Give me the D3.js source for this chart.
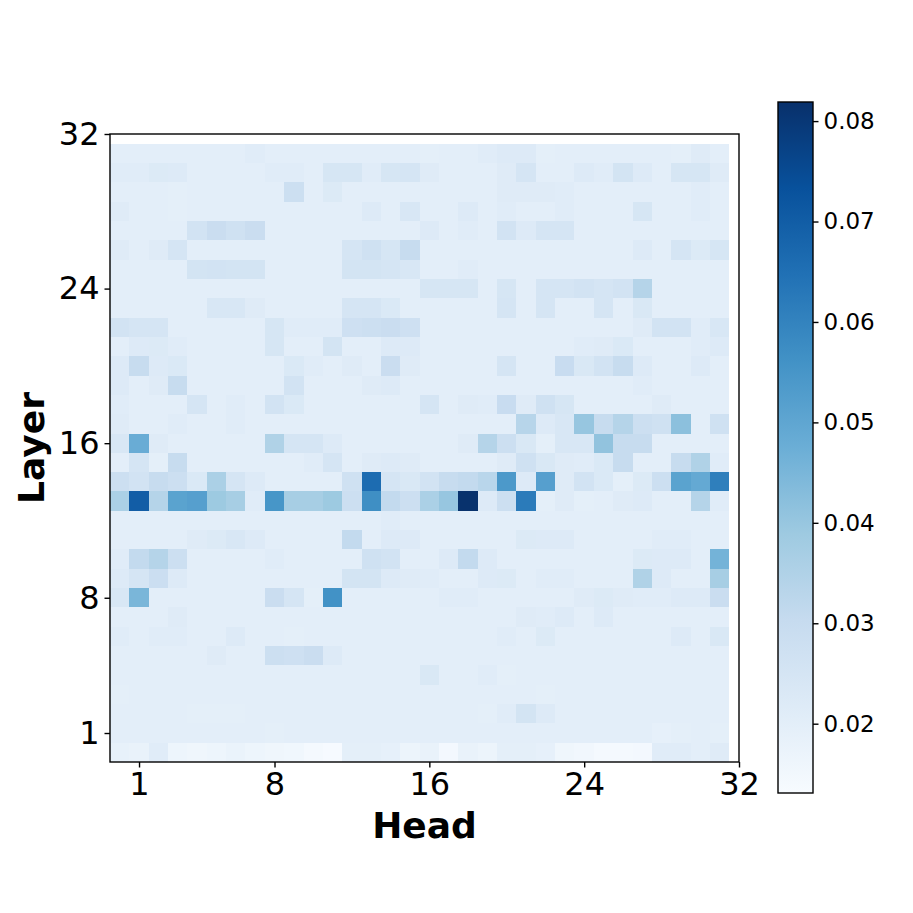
<!DOCTYPE html>
<html>
<head>
<meta charset="utf-8">
<style>
  html, body { margin: 0; padding: 0; background: #fff; }
  text { font-family: "DejaVu Sans", sans-serif; fill: #000; }
</style>
<script src="https://cdn.jsdelivr.net/npm/d3@7"></script>
</head>
<body>
<div id="chart"></div>
<script>
// tick labels
const headTicks = [1, 8, 16, 24, 32]
const layerTicks = [1, 8, 16, 24, 32]
const colorTicks = [0.02, 0.03, 0.04, 0.05, 0.06, 0.07, 0.08]
const colorDomain = [0.0131, 0.0819]

// matplotlib Blues
const blues = ['#f7fbff', '#deebf7', '#c6dbef', '#9ecae1', '#6baed6', '#4292c6', '#2171b5', '#08519c', '#08306b']

// cell values x 1000. First row is layer 31, last is layer 0
const cellValues = [
  [20,20,20,20,20,20,20,21,20,20,20,20,20,20,20,20,19.5,20,20,21,22,22,19.5,20,20,20,20,20,20,19.5,21.5,20],
  [21,21,22.5,22,20,20,20,20,21,21,20,24.5,24.5,21,24.5,25,21.5,20,20,20,21.5,25,20,20,22,21,25.5,22,20,24.5,24.5,21.5],
  [20,20,20,19.5,20,20,20,20,20,28,20,22.5,20,20,20,20,20,20,20,20,21.5,21.5,21.5,21,20,20,20,20,20,20,21,20],
  [21.5,20,20,19.5,20,20,20,20,20,20,20,20,20,22,20,24,20,20,22,20,21,20,20,21,20,20,20,24.5,20,20,21,20],
  [20,20,20,20,26,29,27,29,20,20,20,20,20,20,20,20,22,20,21,20,26,22,25,25,20,20,20,20,20,20,20,20],
  [21.5,20,21.5,25,20,20,20,20,20,20,20,20,25,27,24.5,30,20,20,20,20,20,20,20,20,20,20,20,22,20,25,22.5,24.5],
  [20,20,20,20,25.5,26,25.5,25.5,20,20,20,20,25.5,25.5,25,24,20,20,21,20,20,20,20,20,20,20,20,20,20,20,20,20],
  [20,20,20,20,20,20,20,20,20,20,20,20,20,20,20,20,24.5,24.5,24.5,20,24.5,20,25,25,26,25,26,34,20,20,20,20],
  [20,20,20,20,20,24,24,21.5,20,20,20,20,25,25,23,20,20,20,20,20,25,20,25,20,20,25,20,23.5,20,20,20,20],
  [26,25,25,20,20,20,20,20,24.5,21,21,21,27.5,28,29,27.5,20,20,20,20,20,20,20,20,20,20,20,21.5,26,26,21,24],
  [20,22,22.5,21,20,20,20,20,24.5,20,20,25.5,20,20,22,22,20,20,20,20,20,20,20,20,21,21.5,23,20,20,20,21,22],
  [22,30,22,23,20,20,20,20,20,23,21,20,21.5,20,29,21.5,20,20,20,20,25,20,20,29.5,23.5,26,30,22,20,20,22,20],
  [22,20,21.5,30,20,20,20,20,20,26,20,20,20,21.5,22,20,20,20,20,20,20,20,20,20,20,20,20,21,20,20,20,20],
  [21,20,20,20,25,20,21,20,26,23,20,20,20,20,20,20,25,20,21.5,21,29.5,21.5,27,24.5,20,20,20,20,21.5,20,20,20],
  [21.5,20,20,21,20,20,21,20,20,20,20,20,20,20,20,20,20,20,20,20,20,33.5,22,24,40,30,34,28,27,42,20,27],
  [24,48,21.5,20,20,20,20,20,35,25,25,22,20,20,20,20,20,20,21.5,34,28,23.5,19.5,24,24,41,30,30,20,20,20,20],
  [20,25,19.5,30,20,20,20,20,20,20,21,25,20,21.5,22,21.5,20,20,20,20,21.5,27,23.5,21.5,21,23,30,20,20,30,35,21],
  [28,26,30,28,23,36,25,22,20,20,20,20,27,66,25,23.5,26,30,31,33,54,22,52,21.5,26,23,19.5,22.5,28,51,49,61],
  [36,70,34,51,52,39,37,21,55,37,37,39,28,57,31,28,36,40,81.5,22,28,62,19.5,21.5,19.5,20,21.5,22,20,20,34,21],
  [20,20,20,20,20,20,20,20,20,20,20,20,20,20,21,20,20,20,20,20,20,20,20,20,20,20,20,20,20,20,20,20],
  [20,20,20,20,21.5,22.5,24,22,20,20,20,20,31,20,22,22,20,20,20,20,20,22.5,22,22,20,20,20,20,21,21,20,20],
  [21,31,34,28,20,20,20,20,21,20,20,20,20,27,26,20,20,22,31,22,20,20,20,20,20,20,20,22.5,22,22,20,46],
  [22,25,28.5,22,20,20,20,20,20,20,20,20,25.5,25.5,22,21.5,21,20,20,22,22.5,20,21,21,20,20,20,35,22,20,20,37],
  [24,45,20,20,20,20,20,20,29,25,19.5,56,20,20,20,20,20,21,21,20,20,20,20,20,21.5,22.5,21.5,21,21,22,22,29],
  [20,20,20,21.5,20,20,20,20,20,20,20,20,20,20,20,20,20,20,20,20,20,21.5,21,22,20,22,20,20,20,20,20,20],
  [21,20,21,21,20,20,22,20,20,19.5,20,20,20,20,20,20,20,20,20,20,21,20,22.5,20,20,20,20,20,20,22,20,23.5],
  [20,20,20,20,20,21.5,20,20,28,27.5,29,22,20,20,20,20,20,20,20,20,20,20,20,20,20,20,20,20,20,20,20,20],
  [20,20,20,20,20,20,20,20,20,20,20,20,20,20,20,20,23.5,20,20,21,19.5,20,20,20,20,20,20,20,20,20,20,20],
  [19.5,20,20,20,20,20,20,20,20,20,20,20,20,20,20,20,20,20,20,20,20,20,19.5,20,20,20,20,20,20,20,20,20],
  [20,20,20,20,19.5,19.5,19.5,20,20,20,20,20,20,20,20,20,20,20,20,19.7,21,25.5,22,20,20,20,20,20,20,20,20,20],
  [20,20,20,20,20,20,20,20,19.5,20,20,20,20,20,20,20,20,20,20,20,20,20,20,20,20,20,20,20,19,19.5,20,19.5],
  [18.5,18,21,16.5,16,16.5,17.5,16.5,16,15.5,14,13.5,19.5,19.5,19,17,18,14.5,18,17,19.5,19.5,19,16,15,14,14,14.5,21,21,20,21.5]
]

const size = 913
const plot = {left: 110, right: 739, top: 134, bottom: 762}
const bar = {left: 778, right: 813, top: 102, bottom: 793}

const svg = d3.select('#chart')
    .append('svg')
    .attr('width', size)
    .attr('height', size)
    .style('display', 'block')

// axis limits run half a cell below 0 and stop at 32, so the image leaves a gap
const xScale = d3.scaleLinear().domain([-0.5, 32]).range([plot.left, plot.right])
const yScale = d3.scaleLinear().domain([-0.5, 32]).range([plot.bottom, plot.top])

const colorStops = blues.map((c, i) => i / (blues.length - 1))
const colorScale = d3.scaleLinear()
    .domain(colorStops.map(t => colorDomain[0] + (colorDomain[1] - colorDomain[0]) * t))
    .range(blues)
    .clamp(true)

// Heatmap cells
cellValues.forEach((row, r) => {
    const layer = cellValues.length - 1 - r
    svg.append('g')
        .selectAll('rect')
        .data(row)
        .enter()
        .append('rect')
        .attr('x', (d, i) => xScale(i - 0.5))
        .attr('y', yScale(layer + 0.5))
        .attr('width', (d, i) => xScale(i + 0.5) - xScale(i - 0.5))
        .attr('height', yScale(layer - 0.5) - yScale(layer + 0.5))
        .attr('fill', d => colorScale(d / 1000))
        .attr('shape-rendering', 'crispEdges')
})

// Frame
svg.append('rect')
    .attr('x', plot.left)
    .attr('y', plot.top)
    .attr('width', plot.right - plot.left)
    .attr('height', plot.bottom - plot.top)
    .attr('fill', 'none')
    .attr('stroke', '#000')
    .attr('stroke-width', 1.4)

const styleAxis = (g, fontSize) => {
    g.select('.domain').remove()
    g.selectAll('.tick line').attr('stroke', '#000').attr('stroke-width', 1.4)
    g.selectAll('.tick text').attr('font-size', fontSize).attr('font-family', '"DejaVu Sans", sans-serif')
}

// X-axis
svg.append('g')
    .attr('transform', 'translate(0,' + plot.bottom + ')')
    .call(d3.axisBottom(xScale).tickValues(headTicks).tickFormat(d3.format('d')).tickSize(5.5).tickPadding(5))
    .call(styleAxis, 32)

// Y-axis
svg.append('g')
    .attr('transform', 'translate(' + plot.left + ',0)')
    .call(d3.axisLeft(yScale).tickValues(layerTicks).tickFormat(d3.format('d')).tickSize(5.5).tickPadding(5))
    .call(styleAxis, 32)

// Axis labels
svg.append('text')
    .attr('x', (plot.left + plot.right) / 2)
    .attr('y', 838)
    .attr('text-anchor', 'middle')
    .attr('font-size', 36)
    .attr('font-weight', 'bold')
    .text('Head')

svg.append('text')
    .attr('transform', 'translate(44,' + (plot.top + plot.bottom) / 2 + ') rotate(-90)')
    .attr('text-anchor', 'middle')
    .attr('font-size', 36)
    .attr('font-weight', 'bold')
    .text('Layer')

// Colorbar
const barScale = d3.scaleLinear().domain(colorDomain).range([bar.bottom, bar.top])

const gradient = svg.append('defs')
    .append('linearGradient')
    .attr('id', 'barGradient')
    .attr('x1', 0).attr('y1', 1)
    .attr('x2', 0).attr('y2', 0)

gradient.selectAll('stop')
    .data(blues)
    .enter()
    .append('stop')
    .attr('offset', (d, i) => colorStops[i])
    .attr('stop-color', d => d)

svg.append('rect')
    .attr('x', bar.left)
    .attr('y', bar.top)
    .attr('width', bar.right - bar.left)
    .attr('height', bar.bottom - bar.top)
    .attr('fill', 'url(#barGradient)')
    .attr('stroke', '#000')
    .attr('stroke-width', 1.4)

svg.append('g')
    .attr('transform', 'translate(' + bar.right + ',0)')
    .call(d3.axisRight(barScale).tickValues(colorTicks).tickFormat(d3.format('.2f')).tickSize(5.5).tickPadding(5))
    .call(styleAxis, 23)
</script>
</body>
</html>
